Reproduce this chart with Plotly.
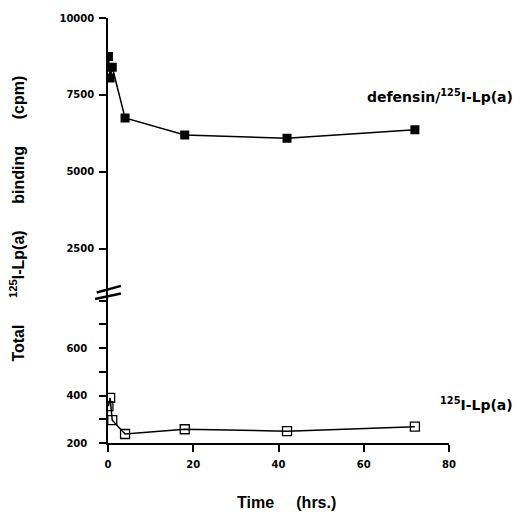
import plotly.graph_objects as go

# time points (hrs.)
hours = [0.1, 0.5, 1, 4, 18, 42, 72]

# total 125I-Lp(a) binding (cpm)
defensin_lpa = [8750, 8050, 8400, 6750, 6200, 6090, 6370]
lpa_alone = [355, 390, 296, 238, 258, 250, 269]

upper_ticks = [2500, 5000, 7500, 10000]
lower_ticks = [200, 400, 600]
x_ticks = [0, 20, 40, 60, 80]

FONT = "Liberation Sans, Arial, Helvetica, sans-serif"
WIDE = "DejaVu Sans, Verdana, sans-serif"
SPLIT = 0.3512  # where the axis is broken

fig = go.Figure()

fig.add_trace(go.Scatter(
    x=hours, y=defensin_lpa, yaxis="y2",
    mode="lines+markers",
    line=dict(color="black", width=1.5),
    marker=dict(symbol="square", size=9, color="black"),
    showlegend=False,
))
fig.add_trace(go.Scatter(
    x=hours, y=lpa_alone, yaxis="y",
    mode="lines+markers",
    line=dict(color="black", width=1.5),
    marker=dict(symbol="square-open", size=9, color="black",
                line=dict(width=1.3)),
    showlegend=False,
))

axis_style = dict(
    showline=True, linecolor="black", linewidth=1.5,
    ticks="outside", ticklen=7, tickwidth=1.5, tickcolor="black",
    showgrid=False, zeroline=False, ticklabeloverflow="allow",
    tickformat="d",
    tickfont=dict(family=WIDE, size=10, color="black", weight="bold"),
)

fig.update_layout(
    width=512, height=505,
    margin=dict(l=100, r=71, t=5, b=70),
    paper_bgcolor="white", plot_bgcolor="white",
    xaxis=dict(range=[0, 80], tickvals=x_ticks, anchor="y",
               ticklabelstandoff=4, **axis_style),
    yaxis=dict(domain=[0, SPLIT], range=[200, 829], tickvals=lower_ticks,
               anchor="x", ticklabelstandoff=10,
               minor=dict(dtick=100, ticks="outside", ticklen=7,
                          tickwidth=1.5, tickcolor="black", showgrid=False),
               **axis_style),
    yaxis2=dict(domain=[SPLIT, 1], range=[1033, 10002], tickvals=upper_ticks,
                anchor="x", ticklabelstandoff=3, **axis_style),
)

# axis break marks
for (x0, y0, x1, y1) in [(-0.033, 0.3542, 0.038, 0.3698),
                         (-0.038, 0.3388, 0.038, 0.3519)]:
    fig.add_shape(type="line", xref="paper", yref="paper",
                  x0=x0, y0=y0, x1=x1, y1=y1,
                  line=dict(color="black", width=2.5))

bold = dict(color="black", weight="bold")

fig.add_annotation(
    text="defensin/<sup>125</sup>I-Lp(a)", xref="paper", yref="paper",
    x=1.195, y=0.8163, xanchor="right", yanchor="middle", showarrow=False,
    font=dict(family=WIDE, size=14, **bold),
)
fig.add_annotation(
    text="<sup>125</sup>I-Lp(a)", xref="paper", yref="paper",
    x=1.195, y=0.0907, xanchor="right", yanchor="middle", showarrow=False,
    font=dict(family=WIDE, size=14, **bold),
)
fig.add_annotation(
    text="Time&nbsp;&nbsp;&nbsp;&nbsp;&nbsp;(hrs.)", xref="paper", yref="paper",
    x=0.522, y=-0.1395, xanchor="center", yanchor="middle", showarrow=False,
    font=dict(family=FONT, size=16, **bold),
)
fig.add_annotation(
    text="Total&nbsp;&nbsp;&nbsp;&nbsp;&nbsp;&nbsp;<sup>125</sup>I-Lp(a)"
         "&nbsp;&nbsp;&nbsp;&nbsp;&nbsp;&nbsp;binding"
         "&nbsp;&nbsp;&nbsp;&nbsp;&nbsp;&nbsp;(cpm)",
    xref="paper", yref="paper", x=-0.267, y=0.5279, textangle=-90,
    xanchor="center", yanchor="middle", showarrow=False,
    font=dict(family=FONT, size=16, **bold),
)

fig.write_html("out.html")
